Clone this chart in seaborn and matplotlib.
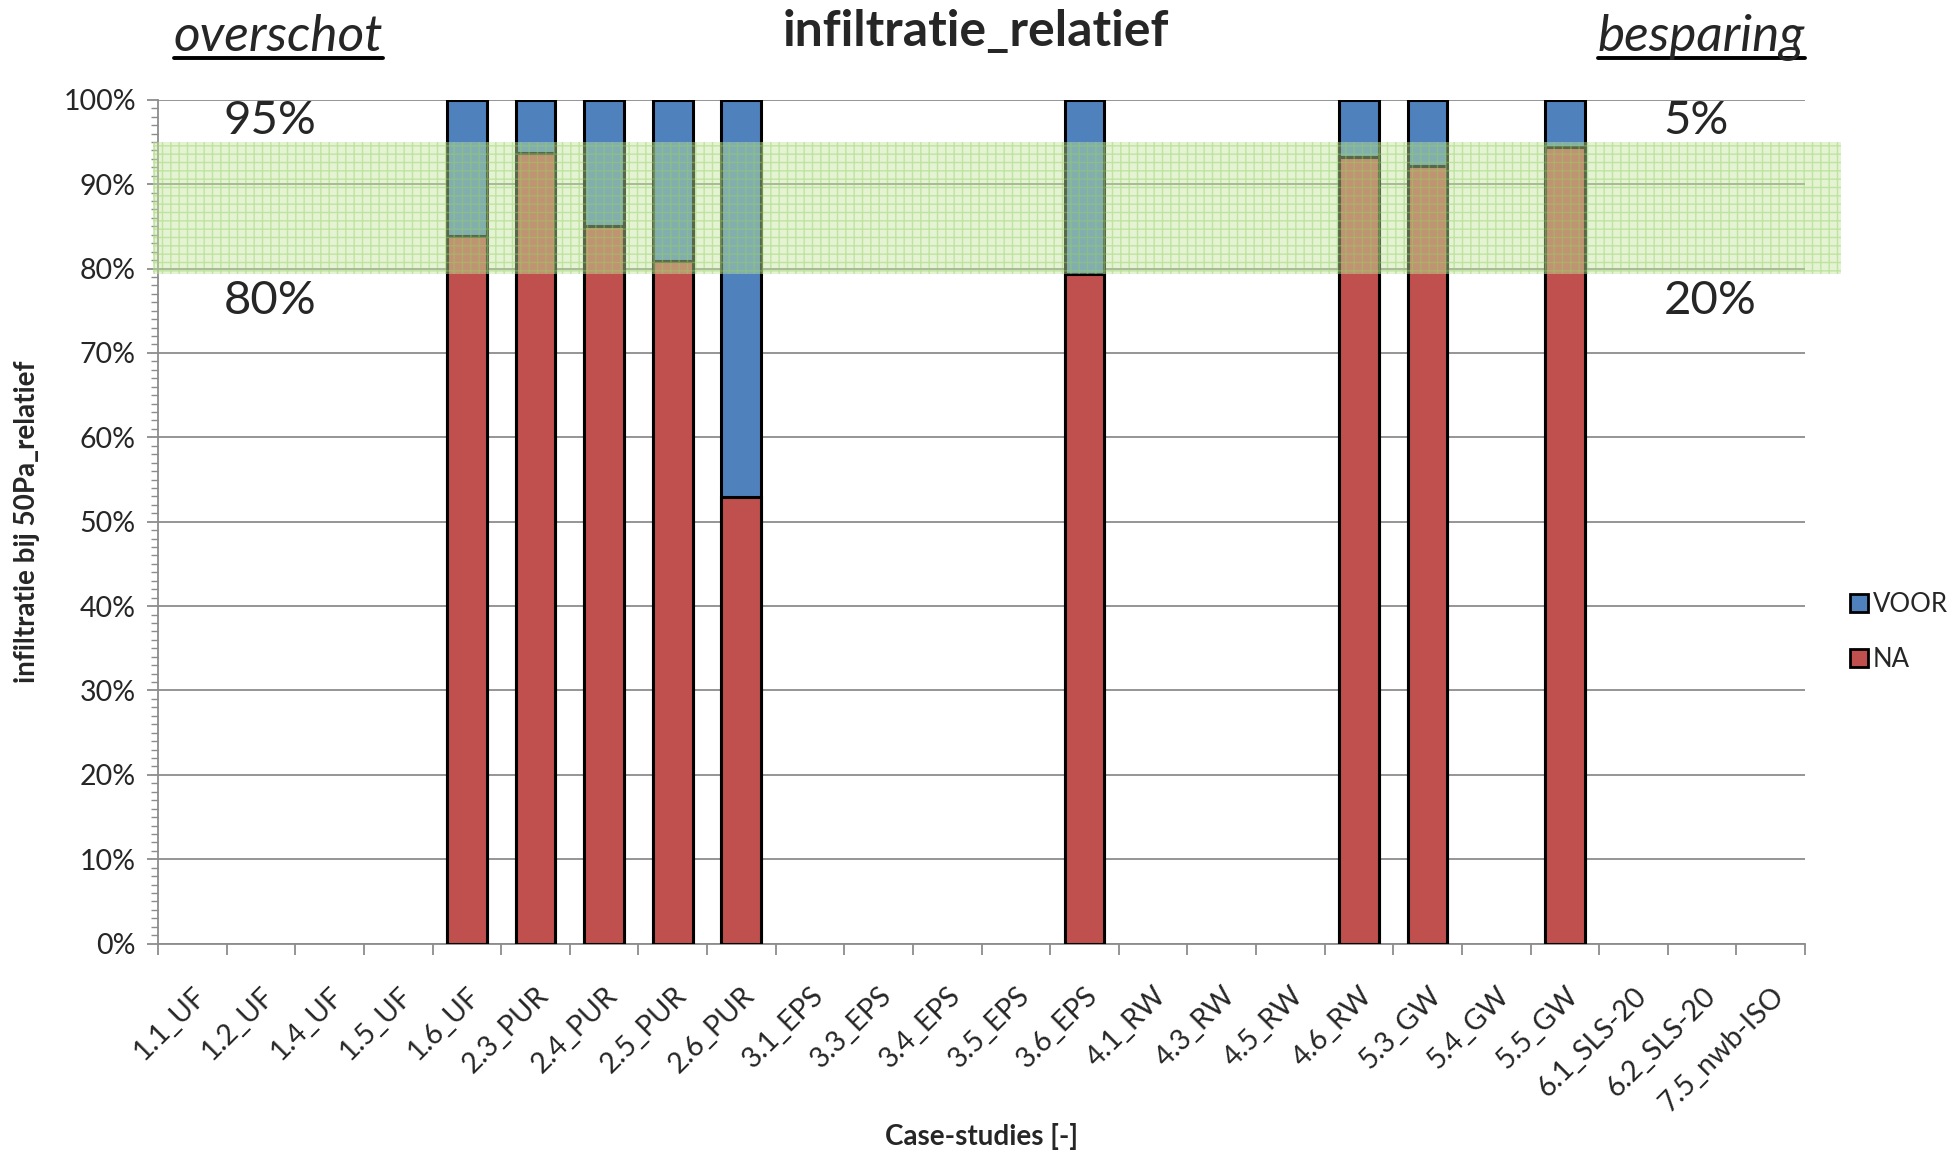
import numpy as np
import pandas as pd
import matplotlib
matplotlib.use("Agg")
import matplotlib.pyplot as plt
from matplotlib.patches import Rectangle, Patch
from matplotlib.lines import Line2D
from matplotlib.ticker import MultipleLocator, FixedLocator
import seaborn as sns

# Case studies on the x axis
cases = ["1.1_UF", "1.2_UF", "1.4_UF", "1.5_UF", "1.6_UF",
         "2.3_PUR", "2.4_PUR", "2.5_PUR", "2.6_PUR",
         "3.1_EPS", "3.3_EPS", "3.4_EPS", "3.5_EPS", "3.6_EPS",
         "4.1_RW", "4.3_RW", "4.5_RW", "4.6_RW",
         "5.3_GW", "5.4_GW", "5.5_GW",
         "6.1_SLS-20", "6.2_SLS-20", "7.5_nwb-ISO"]

# Relative infiltration at 50 Pa (before = 100 %, after = fraction of before)
measured = ["1.6_UF", "2.3_PUR", "2.4_PUR", "2.5_PUR", "2.6_PUR",
            "3.6_EPS", "4.6_RW", "5.3_GW", "5.5_GW"]
voor = [1.00, 1.00, 1.00, 1.00, 1.00, 1.00, 1.00, 1.00, 1.00]
na = [0.839, 0.937, 0.850, 0.809, 0.529, 0.794, 0.932, 0.921, 0.944]

# Target band
band_low, band_high = 0.7935, 0.9505

df = pd.DataFrame({"case": measured, "VOOR": voor, "NA": na})

sns.set_style("white")
plt.rcParams["font.family"] = ["Lato", "DejaVu Sans"]

BLUE = "#4f81bd"
RED = "#c0504d"
GRID = "#8c8c8c"

fig = plt.figure(figsize=(19.52, 11.6), dpi=100)
ax = fig.add_axes([0.081, 0.1865, 0.8437, 0.7275])

sns.barplot(data=df, x="case", y="VOOR", order=cases, color=BLUE,
            saturation=1, width=0.58, edgecolor="black", linewidth=2.2,
            ax=ax, zorder=3)
sns.barplot(data=df, x="case", y="NA", order=cases, color=RED,
            saturation=1, width=0.58, edgecolor="black", linewidth=2.2,
            ax=ax, zorder=4)

ax.set_xlim(-0.5, len(cases) - 0.5)
ax.set_ylim(0, 1)

# Horizontal gridlines
ax.yaxis.set_major_locator(MultipleLocator(0.1))
ax.yaxis.set_minor_locator(MultipleLocator(0.01))
ax.grid(axis="y", which="major", color=GRID, linewidth=1.3, zorder=0)
ax.grid(axis="x", visible=False)
ax.set_axisbelow(True)
ax.set_yticks(np.arange(0, 1.01, 0.1))
ax.set_yticklabels([f"{int(round(v * 100))}%" for v in np.arange(0, 1.01, 0.1)],
                   fontsize=20.5)

ax.set_xticks(range(len(cases)))
ax.set_xticklabels(cases, rotation=45, ha="right", rotation_mode="anchor",
                   fontsize=20.5)
ax.xaxis.set_minor_locator(FixedLocator(np.arange(-0.5, len(cases), 1.0)))
ax.tick_params(axis="x", which="major", length=0, pad=28)
ax.tick_params(axis="x", which="minor", length=8, width=1.3, color=GRID,
               direction="out", bottom=True)
ax.tick_params(axis="y", which="major", length=8, width=1.3, color=GRID,
               direction="out", left=True, pad=8)
ax.tick_params(axis="y", which="minor", length=5, width=1.0, color=GRID,
               direction="out", left=True)

for side in ("top", "right"):
    ax.spines[side].set_visible(False)
for side in ("left", "bottom"):
    ax.spines[side].set_color(GRID)
    ax.spines[side].set_linewidth(1.3)

ax.set_xlabel("Case-studies [-]", fontsize=20, fontweight="bold", labelpad=0)
ax.xaxis.set_label_coords(0.5, -0.212)
ax.set_ylabel("infiltratie bij 50Pa_relatief", fontsize=20, fontweight="bold")
ax.yaxis.set_label_coords(-0.072, 0.5)

# Green target band over the bars
band = Rectangle((-0.573, band_low), 24.6, band_high - band_low,
                 facecolor="#c2e6a0", edgecolor="#96d062", linewidth=0,
                 hatch="++", alpha=0.45, zorder=6, clip_on=False)
ax.add_patch(band)

# Band limit annotations
txt_kw = dict(fontsize=34, va="center", ha="left", zorder=7)
ax.text(0.46, 0.975, "95%", **txt_kw)
ax.text(0.46, 0.761, "80%", **txt_kw)
ax.text(21.44, 0.975, "5%", **txt_kw)
ax.text(21.44, 0.761, "20%", **txt_kw)

fig.text(0.5, 0.973, "infiltratie_relatief", fontsize=36, fontweight="bold",
         ha="center", va="center")
t_left = fig.text(0.0891, 0.968, "overschot", fontsize=37, style="italic",
                  ha="left", va="center")
t_right = fig.text(0.9247, 0.968, "besparing", fontsize=37, style="italic",
                   ha="right", va="center")

# Underline the side headings
fig.canvas.draw()
renderer = fig.canvas.get_renderer()
for t in (t_left, t_right):
    bb = t.get_window_extent(renderer).transformed(fig.transFigure.inverted())
    fig.add_artist(Line2D([bb.x0, bb.x1], [1 - 58 / 1160, 1 - 58 / 1160],
                          transform=fig.transFigure, color="black",
                          linewidth=2.8))

handles = [Patch(facecolor=BLUE, edgecolor="black", linewidth=2, label="VOOR"),
           Patch(facecolor=RED, edgecolor="black", linewidth=2, label="NA")]
fig.legend(handles=handles, loc="center left", bbox_to_anchor=(0.9475, 0.455),
           frameon=False, fontsize=18.5, handlelength=0.7, handleheight=0.7,
           handletextpad=0.2, labelspacing=1.15, borderaxespad=0,
           borderpad=0)

fig.savefig("out.png", dpi=100)
